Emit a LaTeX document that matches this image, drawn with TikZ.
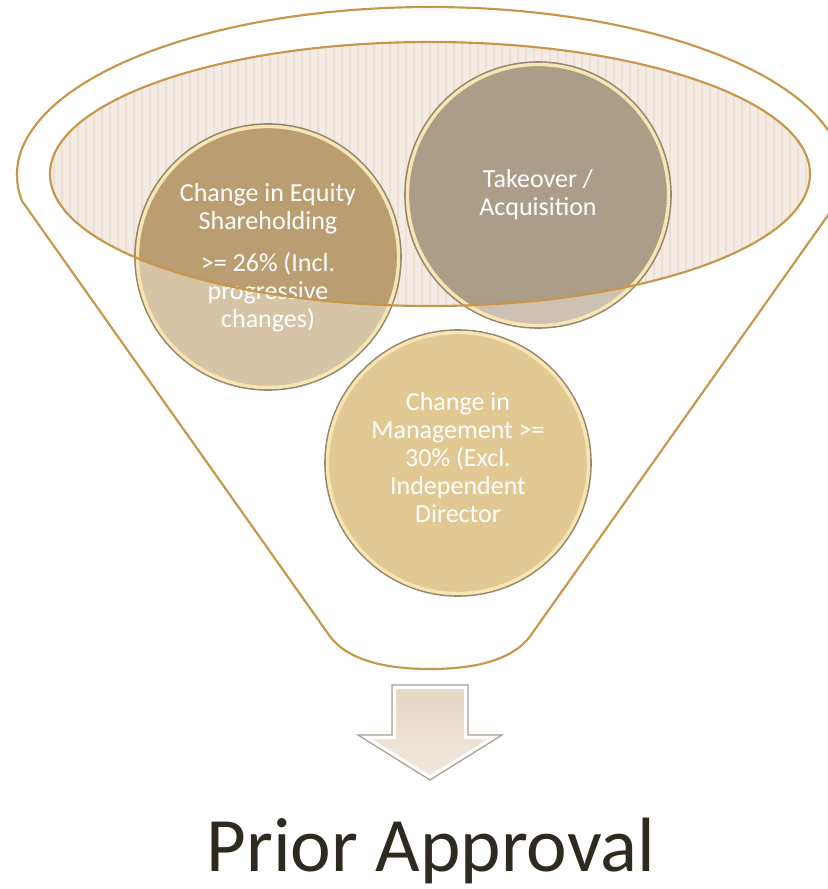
\documentclass[tikz,border=0pt]{standalone}
\usepackage{fontspec}
\setmainfont{Carlito}

\definecolor{rimgold}{HTML}{C8964A}
\definecolor{basin}{HTML}{F4ECE4}
\definecolor{basinstripe}{HTML}{ECE0D2}
\definecolor{equitylo}{HTML}{D6C4A6}
\definecolor{equityhi}{HTML}{BB9D72}
\definecolor{takeoverlo}{HTML}{CCC1B3}
\definecolor{takeoverhi}{HTML}{AC9D88}
\definecolor{mgmtfill}{HTML}{E2C893}
\definecolor{glint}{HTML}{F8E6B2}
\definecolor{discedge}{HTML}{968571}
\definecolor{inkdark}{HTML}{2E2A1F}
\definecolor{arrowtop}{HTML}{E4D6C3}
\definecolor{arrowbot}{HTML}{F1E9DF}

\begin{document}
\begin{tikzpicture}[x=0.75pt,y=0.75pt,yscale=-1,xscale=1,
  disc/.style={circle, minimum size=199.5pt, inner sep=0pt},
  disctext/.style={text=white, align=center, font=\fontsize{19.5}{21}\selectfont},
]
  \useasboundingbox (0,0) rectangle (828,889);
  \coordinate (mouth) at (430,174);

  % inner basin of the funnel
  \fill[basin] (mouth) ellipse [x radius=380, y radius=132];
  \begin{scope}
    \clip (mouth) ellipse [x radius=380, y radius=132];
    \foreach \x in {54,62,...,806}
      \draw[basinstripe, line width=0.8] (\x,40) -- (\x,310);
  \end{scope}

  % the three discs
  \node[disc, fill=equitylo] (equity) at (268,257) {};
  \node[disc, fill=takeoverlo] (takeover) at (538,195) {};
  \node[disc, fill=mgmtfill] (mgmt) at (458,463) {};

  % darker where they sit inside the basin
  \begin{scope}
    \clip (mouth) ellipse [x radius=380, y radius=132];
    \fill[equityhi] (equity.center) circle (133);
    \fill[takeoverhi] (takeover.center) circle (133);
  \end{scope}

  \foreach \n in {equity,takeover,mgmt} {
    \draw[discedge, line width=1.2] (\n.center) circle (133);
    \draw[glint, line width=2.5] (\n.center) circle (130.5);
  }

  \node[disctext] (equitytext) at (268,258)
    {Change in Equity\\Shareholding\\[10.5pt]>= 26\% (Incl.\\progressive\\changes)};
  \node[disctext] (takeovertext) at (538,195) {Takeover /\\Acquisition};
  \node[disctext] (mgmttext) at (458,458)
    {Change in\\Management >=\\30\% (Excl.\\Independent\\Director};

  % basin rim and funnel body
  \draw[rimgold, line width=1.6] (mouth) ellipse [x radius=380, y radius=132];
  \draw[rimgold, line width=1.6] (329,635) -- (22,201)
    arc [start angle=171.1, end angle=368.9, x radius=413, y radius=168]
    -- (531,635) .. controls (512,662) and (470,669) .. (430,669)
    .. controls (390,669) and (348,662) .. cycle;

  % down arrow
  \shade[top color=arrowtop, bottom color=arrowbot]
    (392,685) -- (468,685) -- (468,735) -- (502,735) -- (430,780) -- (358,735) -- (392,735) -- cycle;
  \begin{scope}
    \clip (392,685) -- (468,685) -- (468,735) -- (502,735) -- (430,780) -- (358,735) -- (392,735) -- cycle;
    \draw[white, line width=6] (392,685) -- (468,685) -- (468,735) -- (502,735) -- (430,780) -- (358,735) -- (392,735) -- cycle;
  \end{scope}
  \draw[discedge!80, line width=0.9]
    (392,685) -- (468,685) -- (468,735) -- (502,735) -- (430,780) -- (358,735) -- (392,735) -- cycle;

  \node[anchor=base, text=inkdark, font=\fontsize{57.75}{69}\selectfont] (approval) at (431,871) {Prior Approval};
\end{tikzpicture}
\end{document}
